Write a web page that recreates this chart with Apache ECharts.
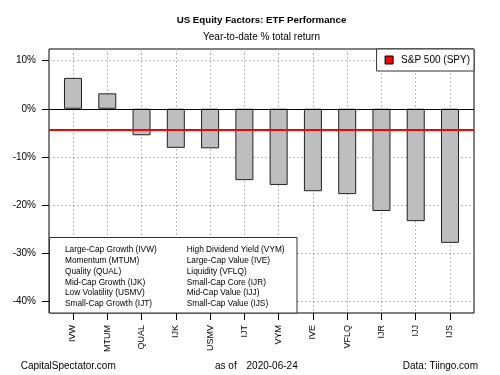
<!DOCTYPE html>
<html>
<head>
<meta charset="utf-8">
<script src="https://cdn.jsdelivr.net/npm/echarts@6/dist/echarts.min.js"></script>
<style>html,body{margin:0;padding:0;background:#fff}#c{width:500px;height:375px}</style>
</head>
<body>
<div id="c"></div>
<script>
const tickers = ['IVW','MTUM','QUAL','IJK','USMV','IJT','VYM','IVE','VFLQ','IJR','IJJ','IJS'];
const returns = [6.4, 3.2, -5.5, -8.1, -8.2, -14.8, -15.8, -17.1, -17.7, -21.2, -23.3, -27.8];
const spyReturn = -4.45;
const spyName = 'S&P 500 (SPY)';
const yTicks = [-40, -30, -20, -10, 0, 10];
const legendCol1 = ['Large-Cap Growth (IVW)','Momentum (MTUM)','Quality (QUAL)','Mid-Cap Growth (IJK)','Low Volatility (USMV)','Small-Cap Growth (IJT)'];
const legendCol2 = ['High Dividend Yield (VYM)','Large-Cap Value (IVE)','Liquidity (VFLQ)','Small-Cap Core (IJR)','Mid-Cap Value (IJJ)','Small-Cap Value (IJS)'];
const titleText = 'US Equity Factors: ETF Performance';
const subtitleText = 'Year-to-date % total return';
const sourceLeft = 'CapitalSpectator.com';
const asOfLabel = 'as of';
const asOfDate = '2020-06-24';
const sourceRight = 'Data: Tiingo.com';

const FONT = "'Liberation Sans', Arial, sans-serif";
const xIdx = tickers.map((t, i) => i);

const chart = echarts.init(document.getElementById('c'), null, {renderer: 'canvas'});
const option = {
  animation: false,
  backgroundColor: '#fff',
  textStyle: {fontFamily: FONT},
  grid: {left: 49, top: 49, width: 425, height: 264, show: true, borderColor: '#000', borderWidth: 1, backgroundColor: 'transparent', containLabel: false},
  legend: {
    right: 26, top: 49,
    orient: 'horizontal',
    backgroundColor: '#fff',
    borderColor: '#333', borderWidth: 1, borderRadius: 0,
    padding: [6, 4, 6, 8],
    itemWidth: 8, itemHeight: 8, itemGap: 5,
    icon: 'rect',
    textStyle: {fontFamily: FONT, fontSize: 10, color: '#000', padding: [0, 0, 0, 3]},
    data: [{name: spyName, itemStyle: {color: '#ff0000', borderColor: '#000', borderWidth: 1}}],
    z: 10
  },
  xAxis: {
    type: 'value', min: -0.7, max: 11.7,
    axisLine: {show: false, onZero: false},
    axisTick: {show: true, length: 7, lineStyle: {color: '#000'}, customValues: xIdx},
    axisLabel: {customValues: xIdx, rotate: 90, margin: 12, fontSize: 9, color: '#000', fontFamily: FONT,
      formatter: v => tickers[Math.round(v)] || ''},
    splitLine: {show: true, lineStyle: {color: '#b8b8b8', type: [2, 2], width: 1}}
  },
  yAxis: {
    type: 'value', min: -42.35, max: 12.39,
    axisLine: {show: false, onZero: false},
    axisTick: {show: true, length: 7, lineStyle: {color: '#000'}, customValues: yTicks},
    axisLabel: {customValues: yTicks, margin: 13, fontSize: 10, color: '#000', fontFamily: FONT,
      formatter: v => Math.round(v) + '%'},
    splitLine: {show: true, lineStyle: {color: '#b8b8b8', type: [2, 2], width: 1}}
  },
  series: [
    {
      type: 'bar',
      name: 'ETF',
      data: returns.map((v, i) => [i, v]),
      barWidth: 18,
      itemStyle: {color: '#bebebe', borderColor: '#222', borderWidth: 1},
      markLine: {
        silent: true, symbol: 'none', label: {show: false}, animation: false,
        data: [{yAxis: 0, lineStyle: {color: '#000', width: 1, type: 'solid'}}]
      },
      z: 2
    },
    {
      type: 'line',
      name: spyName,
      data: [],
      itemStyle: {color: '#ff0000'},
      markLine: {
        silent: true, symbol: 'none', label: {show: false}, animation: false,
        data: [{yAxis: spyReturn, lineStyle: {color: '#ff0000', width: 2, type: 'solid'}}]
      },
      z: 3
    }
  ],
  graphic: [
    {type: 'text', x: 261.5, y: 20, style: {text: titleText, font: "bold 9.7px " + FONT, fill: '#000', textAlign: 'center', textVerticalAlign: 'middle'}},
    {type: 'text', x: 261.5, y: 37, style: {text: subtitleText, font: "10px " + FONT, fill: '#000', textAlign: 'center', textVerticalAlign: 'middle'}},
    {type: 'rect', shape: {x: 49.5, y: 237.5, width: 247.5, height: 75.5}, style: {fill: '#fff', stroke: '#333', lineWidth: 1}, z: 20},
    {type: 'text', x: 65, y: 244.6, z: 21, style: {text: legendCol1.join('\n'), font: "8.3px " + FONT, lineHeight: 10.8, fill: '#000', textAlign: 'left', textVerticalAlign: 'top'}},
    {type: 'text', x: 186.7, y: 244.6, z: 21, style: {text: legendCol2.join('\n'), font: "8.3px " + FONT, lineHeight: 10.8, fill: '#000', textAlign: 'left', textVerticalAlign: 'top'}},
    {type: 'text', x: 20.7, y: 366.7, style: {text: sourceLeft, font: "10px " + FONT, fill: '#000', textAlign: 'left', textVerticalAlign: 'middle'}},
    {type: 'text', x: 215, y: 366.7, style: {text: asOfLabel, font: "10px " + FONT, fill: '#000', textAlign: 'left', textVerticalAlign: 'middle'}},
    {type: 'text', x: 297.7, y: 366.7, style: {text: asOfDate, font: "10px " + FONT, fill: '#000', textAlign: 'right', textVerticalAlign: 'middle'}},
    {type: 'text', x: 478, y: 366.7, style: {text: sourceRight, font: "10px " + FONT, fill: '#000', textAlign: 'right', textVerticalAlign: 'middle'}}
  ]
};
chart.setOption(option);
</script>
</body>
</html>
